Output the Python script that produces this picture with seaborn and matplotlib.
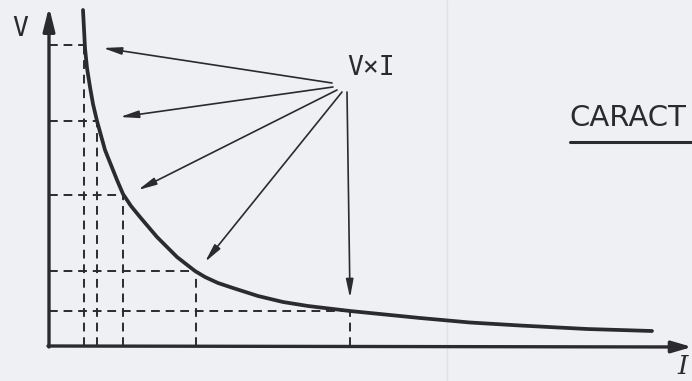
import matplotlib

matplotlib.use("Agg")

import matplotlib.pyplot as plt
import pandas as pd
import seaborn as sns
from matplotlib.lines import Line2D

# curve V x I = const (arbitrary units)
current = [34, 35, 36, 38, 41, 44, 48, 56, 68, 74, 82, 91, 108, 128, 146,
           156, 169, 184, 209, 234, 259, 284, 301, 336, 371, 421, 471, 538, 603]
voltage = [336, 317, 298, 278, 259, 242, 225, 196, 166, 152, 140, 129, 109,
           89, 75, 69, 63, 58, 50, 44, 40, 37, 35, 31.5, 28, 23.5, 20.5, 17, 15]

# operating points picked out with dashed guides
guide_i = [35, 48, 74, 147, 301]
guide_v = [301, 225, 151, 75, 35]

# arrows from the "VxI" label to the curve
arrow_tip_i = [54, 71, 89, 156, 301]
arrow_tip_v = [298, 229, 156, 84, 48]
arrow_from_i = [283, 284, 288, 293, 298]
arrow_from_v = [263, 259, 256, 254, 254]

ink = "#2b2b2e"
paper = "#eff0f4"

sns.set_theme(style="white")
plt.rcParams["font.family"] = ["DejaVu Sans"]

fig = plt.figure(figsize=(6.92, 3.81), dpi=100, facecolor=paper)
ax = fig.add_axes([0, 0, 1, 1])
ax.set_facecolor(paper)
ax.set_xlim(-49, 643)
ax.set_ylim(-35, 346)
ax.set_axis_off()

# faint show-through from the other side of the page
ax.axvline(398, color="#dfe1e6", lw=1.0, zorder=0)

dash = (0, (4.5, 3))
ax.hlines(guide_v, 0, guide_i, colors=ink, lw=1.4, linestyles=dash, zorder=2)
ax.vlines(guide_i, 0, guide_v, colors=ink, lw=1.4, linestyles=dash, zorder=2)

df = pd.DataFrame({"I": current, "V": voltage})
sns.lineplot(data=df, x="I", y="V", sort=False, color=ink, lw=2.7, ax=ax, zorder=3)
ax.set_xlabel("")
ax.set_ylabel("")

# axes with arrow heads
ax.annotate("", xy=(0, 339), xytext=(0, -1),
            arrowprops=dict(arrowstyle="-|>,head_length=1.4,head_width=0.35",
                            mutation_scale=10, color=ink, lw=2.4, shrinkA=0, shrinkB=0))
ax.annotate("", xy=(643, -1), xytext=(-1, 0),
            arrowprops=dict(arrowstyle="-|>,head_length=1.2,head_width=0.35",
                            mutation_scale=10, color=ink, lw=2.4, shrinkA=0, shrinkB=0))

for ti, tv, fi, fv in zip(arrow_tip_i, arrow_tip_v, arrow_from_i, arrow_from_v):
    ax.annotate("", xy=(ti, tv), xytext=(fi, fv),
                arrowprops=dict(arrowstyle="-|>,head_length=1.1,head_width=0.22",
                                mutation_scale=10, color=ink, lw=1.2,
                                shrinkA=0, shrinkB=0))

ax.text(-29, 317, "V", fontsize=19, color=ink, family="DejaVu Sans Mono",
        ha="center", va="center")
ax.text(322, 278, "V×I", fontsize=19, color=ink, family="DejaVu Sans Mono",
        ha="center", va="center")
ax.text(634, -21, "I", fontsize=19, color=ink, family="DejaVu Serif",
        style="italic", ha="center", va="center")

fig.text(569 / 692, 1 - 118 / 381, "CARACT", fontsize=21, color=ink,
         ha="left", va="center")
fig.add_artist(Line2D([570 / 692, 1.0], [1 - 142 / 381] * 2, color=ink, lw=2.2))

fig.savefig("out.png", dpi=100, facecolor=paper)
plt.close(fig)
